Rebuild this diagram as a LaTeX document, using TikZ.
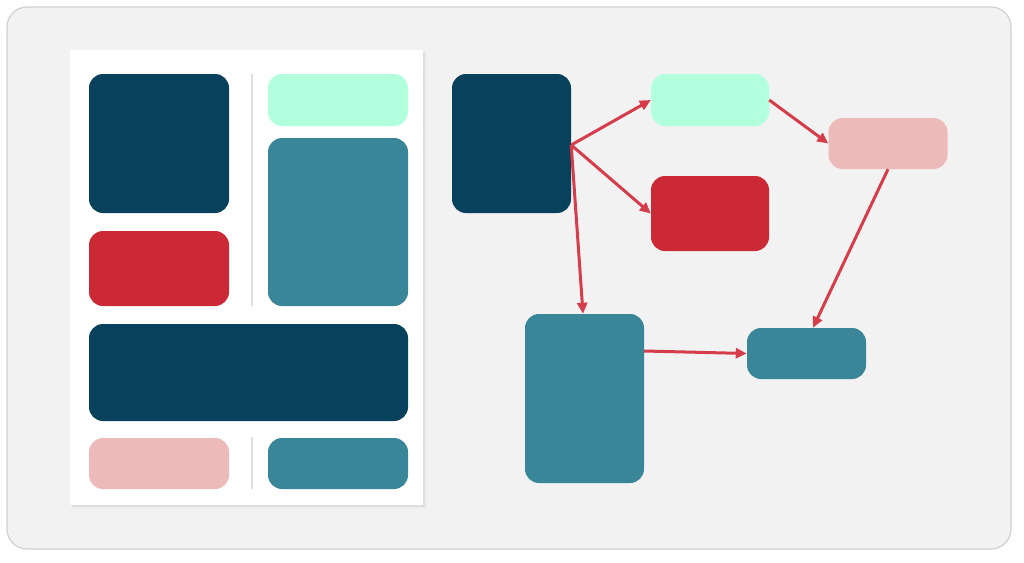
\documentclass[tikz,border=0pt]{standalone}
\usetikzlibrary{arrows.meta}
\definecolor{navy}{HTML}{08415C}
\definecolor{cred}{HTML}{CC2936}
\definecolor{mint}{HTML}{B2FFDE}
\definecolor{teal}{HTML}{388697}
\definecolor{pink}{HTML}{EBBAB9}
\definecolor{bgc}{HTML}{F2F2F2}
\definecolor{bord}{HTML}{D0D0D0}
\definecolor{sep}{HTML}{DEDEDE}
\definecolor{arr}{HTML}{D63D4B}
\tikzset{
  blk/.style={rounded corners=14pt, draw=none},
  conn/.style={draw=arr, line width=3pt, -{Triangle[length=11pt,width=10pt]}},
  sepline/.style={draw=sep, line width=2pt}
}
\begin{document}
\begin{tikzpicture}[x=1pt,y=-1pt]
\useasboundingbox (0,0) rectangle (1024,562);
\fill[white] (0,0) rectangle (1024,562);
\draw[draw=bord, fill=bgc, line width=1.2pt, rounded corners=20pt] (7,7) rectangle (1011,549);
% page
\fill[black!7] (72,52) rectangle (427,509);
\fill[black!13] (72,52) rectangle (425,507);
\fill[white] (70,50) rectangle (423,505);
% left layout
\fill[navy, blk] (89,74) rectangle (229,213);
\fill[cred, blk] (89,231) rectangle (229,306);
\fill[mint, blk] (268,74) rectangle (408,126);
\fill[teal, blk] (268,138) rectangle (408,306);
\fill[navy, blk] (89,324) rectangle (408,421);
\fill[pink, blk] (89,438) rectangle (229,489);
\fill[teal, blk] (268,438) rectangle (408,489);
\draw[sepline] (251.5,74) -- (251.5,306);
\draw[sepline] (251.5,437) -- (251.5,489);
% graph
\node[blk, fill=navy, minimum width=119pt, minimum height=139pt, inner sep=0pt] (A) at (511.5,143.5) {};
\node[blk, fill=mint, minimum width=118pt, minimum height=52pt, inner sep=0pt] (B) at (710,100) {};
\node[blk, fill=cred, minimum width=118pt, minimum height=75pt, inner sep=0pt] (C) at (710,213.5) {};
\node[blk, fill=pink, minimum width=119pt, minimum height=51pt, inner sep=0pt] (D) at (888,143.5) {};
\node[blk, fill=teal, minimum width=119pt, minimum height=169pt, inner sep=0pt] (E) at (584.5,398.5) {};
\node[blk, fill=teal, minimum width=119pt, minimum height=51pt, inner sep=0pt] (F) at (806.5,353.5) {};
\coordinate (As) at ([yshift=-1.5pt]A.east);
\coordinate (Es) at ([yshift=47.5pt]E.east);
\draw[conn] (As) -- (B.west);
\draw[conn] (As) -- (C.west);
\draw[conn] (As) -- ([xshift=-1.5pt]E.north);
\draw[conn] (B.east) -- (D.west);
\draw[conn] (D.south) -- ([xshift=6.5pt]F.north);
\draw[conn] (Es) -- (F.west);
\end{tikzpicture}
\end{document}
